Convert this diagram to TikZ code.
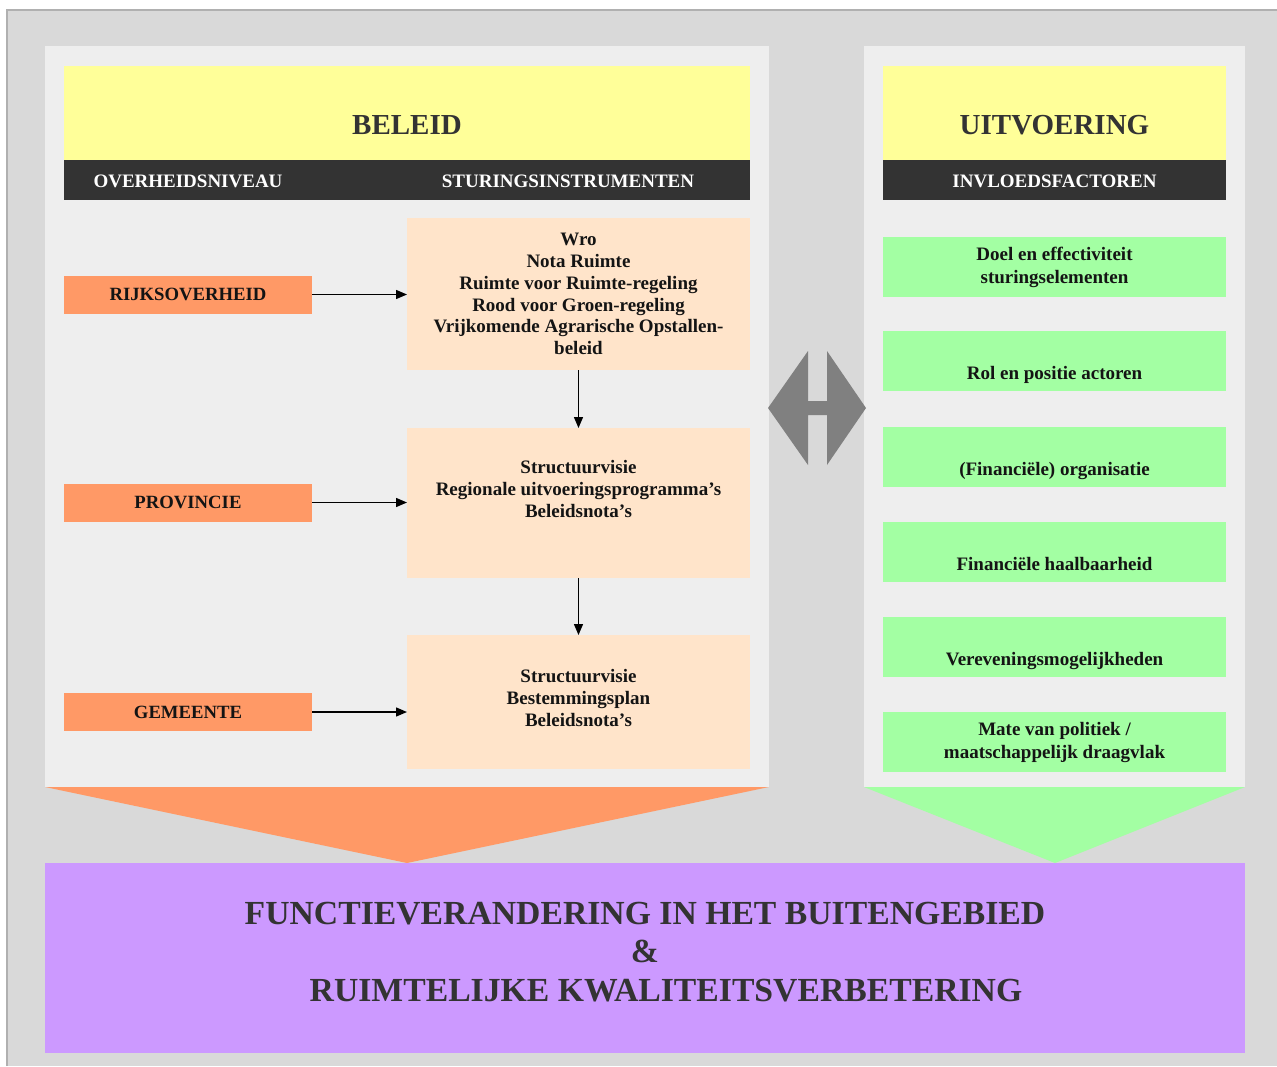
\documentclass[tikz,border=0pt]{standalone}
\usepackage{fontspec}
\setmainfont{Liberation Serif}
\usetikzlibrary{arrows.meta}
\definecolor{bggray}{HTML}{D9D9D9}
\definecolor{framegray}{HTML}{B0B0B0}
\definecolor{panel}{HTML}{EEEEEE}
\definecolor{yel}{HTML}{FFFF99}
\definecolor{darkbar}{HTML}{333333}
\definecolor{orng}{HTML}{FF9966}
\definecolor{peach}{HTML}{FFE4CA}
\definecolor{grn}{HTML}{A3FFA3}
\definecolor{purp}{HTML}{CC99FF}
\definecolor{arrgray}{HTML}{808080}
\definecolor{txtdark}{HTML}{333333}
\definecolor{txtblack}{HTML}{141414}
\begin{document}
\begin{tikzpicture}[x=1pt,y=-1pt,
  every node/.style={inner sep=0pt,outer sep=0pt},
  plainbox/.style={rectangle,draw=none,minimum width=#1},
  yelbox/.style={fill=yel,minimum height=94pt},
  barbox/.style={fill=darkbar,minimum height=40pt},
  titletext/.style={font=\bfseries\fontsize{29}{34}\selectfont,text=txtdark},
  bartext/.style={font=\bfseries\fontsize{19}{22}\selectfont,text=white},
  levelbox/.style={fill=orng,minimum width=248pt,minimum height=38pt,
    font=\bfseries\fontsize{18.7}{22}\selectfont,text=txtblack},
  instrbox/.style={fill=peach,minimum width=343pt,align=center,
    font=\bfseries\fontsize{19}{21.8}\selectfont,text=txtblack},
  factorbox/.style={fill=grn,minimum width=343pt,minimum height=60pt,align=center,
    font=\bfseries\fontsize{19}{23}\selectfont,text=txtblack},
  lowtext/.style={text height=37pt,text depth=0pt},
  conn/.style={line width=1.4pt,-{Triangle[length=11pt,width=9pt]}},
  resultbox/.style={fill=purp,minimum width=1200pt,minimum height=190pt,align=center,
    font=\bfseries\fontsize{33.7}{38.5}\selectfont,text=txtdark}
]
\useasboundingbox (0,0) rectangle (1277,1066);
\fill[white] (0,0) rectangle (1277,1066);
% outer frame
\fill[bggray] (7,10) rectangle (1277,1066);
\draw[framegray,line width=2pt] (7,1066) -- (7,10) -- (1277,10);
% panels
\fill[panel] (45,46) rectangle (769,787);
\fill[panel] (864,46) rectangle (1245,787);
% funnels
\fill[orng] (45,787) -- (769,787) -- (407,863) -- cycle;
\fill[grn] (864,787) -- (1245,787) -- (1055,863) -- cycle;

% headers left
\node[plainbox=686pt,yelbox] (beleidhead) at (407,113) {};
\node[titletext] (beleidtxt) at (407,125) {BELEID};
\node[plainbox=686pt,barbox] (beleidbar) at (407,180) {};
\node[bartext] (ovtxt) at (188,181) {OVERHEIDSNIVEAU};
\node[bartext] (sttxt) at (568,181) {STURINGSINSTRUMENTEN};

% headers right
\node[plainbox=343pt,yelbox] (uitvhead) at (1054.5,113) {};
\node[titletext] (uitvtxt) at (1054.5,125) {UITVOERING};
\node[plainbox=343pt,barbox] (uitvbar) at (1054.5,180) {};
\node[bartext] (invtxt) at (1054.5,181) {INVLOEDSFACTOREN};

% levels
\node[levelbox] (rijk) at (188,294.5) {RIJKSOVERHEID};
\node[levelbox] (prov) at (188,502.5) {PROVINCIE};
\node[levelbox] (gem) at (188,712) {GEMEENTE};

% instruments
\node[instrbox,minimum height=152pt] (instr1) at (578.5,294) {Wro\\Nota Ruimte\\Ruimte voor Ruimte-regeling\\Rood voor Groen-regeling\\Vrijkomende Agrarische Opstallen-\\beleid};
\node[instrbox,minimum height=150pt] (instr2) at (578.5,503) {Structuurvisie\\Regionale uitvoeringsprogramma’s\\Beleidsnota’s\\[6pt]\mbox{}};
\node[instrbox,minimum height=134pt] (instr3) at (578.5,702) {Structuurvisie\\Bestemmingsplan\\Beleidsnota’s\\[-14pt]\mbox{}};

% connectors
\draw[conn] (rijk.east) -- (instr1.west |- rijk.east);
\draw[conn] (prov.east) -- (instr2.west |- prov.east);
\draw[conn] (gem.east) -- (instr3.west |- gem.east);
\draw[conn] (instr1.south) -- (instr2.north);
\draw[conn] (instr2.south) -- (instr3.north);

% factors
\node[factorbox] (f1) at (1054.5,267) {Doel en effectiviteit\\sturingselementen};
\node[factorbox,lowtext] (f2) at (1054.5,361) {Rol en positie actoren};
\node[factorbox,lowtext] (f3) at (1054.5,457) {(Financiële) organisatie};
\node[factorbox,lowtext] (f4) at (1054.5,552) {Financiële haalbaarheid};
\node[factorbox,lowtext] (f5) at (1054.5,647) {Vereveningsmogelijkheden};
\node[factorbox] (f6) at (1054.5,742) {Mate van politiek /\\maatschappelijk draagvlak};

% double arrow
\fill[arrgray] (768,408) -- (808,351) -- (808,401) -- (827,401) -- (827,351)
  -- (866,408) -- (827,465) -- (827,415) -- (808,415) -- (808,465) -- cycle;

% result
\node[resultbox] (result) at (645,958) {FUNCTIEVERANDERING IN HET BUITENGEBIED\\\&\\\hspace*{42pt}RUIMTELIJKE KWALITEITSVERBETERING\\[-26pt]\mbox{}};
\end{tikzpicture}
\end{document}
